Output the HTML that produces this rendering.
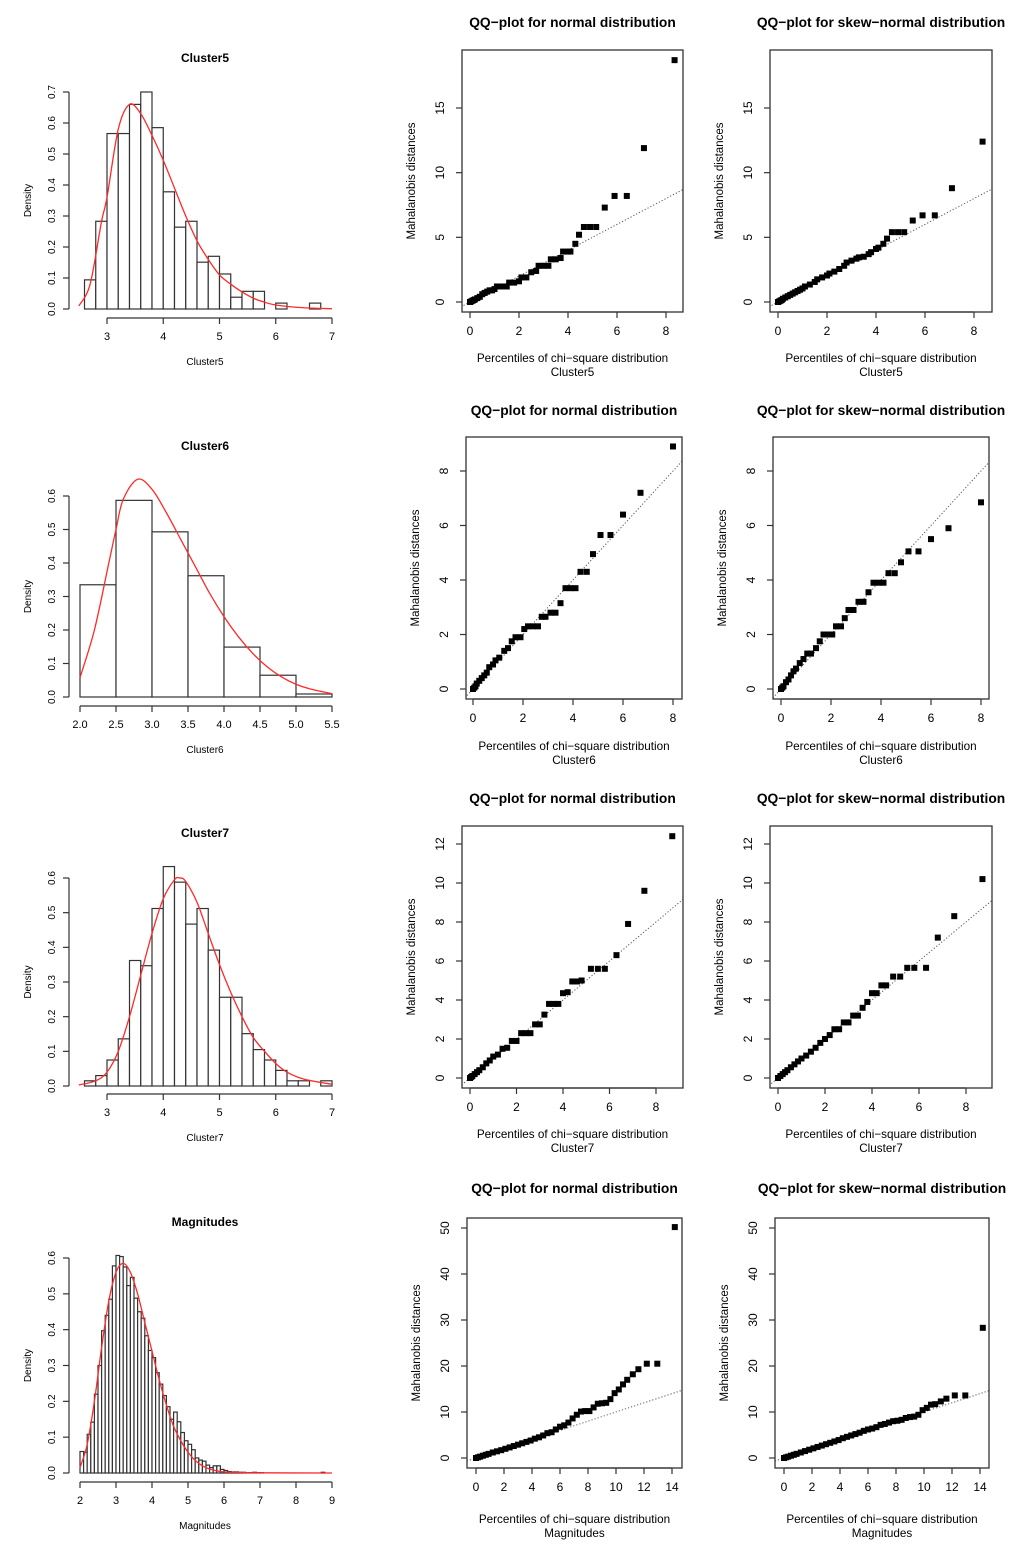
<!DOCTYPE html>
<html><head><meta charset="utf-8"><style>
body{margin:0;background:#fff}
svg text{font-family:"Liberation Sans",Arial,sans-serif;fill:#000}
</style></head><body>
<svg id="fig" width="1024" height="1560" viewBox="0 0 1024 1560" xmlns="http://www.w3.org/2000/svg"></svg>
<script>
// ---------- Histogram data ----------
const c5Start = 2.6, c5Width = 0.2;
const c5Density = [0.094,0.283,0.566,0.566,0.66,0.70,0.585,0.378,0.264,0.283,0.151,0.17,0.113,0.038,0.057,0.057,0,0.019,0,0,0.019];
const c5CurveX = [2.5,2.7,2.9,3.0,3.2,3.4,3.6,3.8,4.0,4.2,4.4,4.6,4.8,5.0,5.2,5.4,5.6,5.8,6.0,6.5,7.0];
const c5CurveY = [0.01,0.08,0.28,0.36,0.58,0.66,0.63,0.56,0.48,0.39,0.30,0.22,0.16,0.11,0.08,0.055,0.035,0.022,0.013,0.004,0.001];
const c5XTicks = ["3","4","5","6","7"];
const c5YTicks = ["0.0","0.1","0.2","0.3","0.4","0.5","0.6","0.7"];

const c6Start = 2.0, c6Width = 0.5;
const c6Density = [0.335,0.587,0.493,0.362,0.149,0.065,0.009];
const c6CurveX = [2.0,2.2,2.4,2.5,2.6,2.8,3.0,3.2,3.4,3.6,3.8,4.0,4.2,4.4,4.6,4.8,5.0,5.2,5.5];
const c6CurveY = [0.058,0.2,0.4,0.5,0.59,0.65,0.62,0.55,0.47,0.39,0.31,0.24,0.18,0.13,0.09,0.06,0.038,0.024,0.01];
const c6XTicks = ["2.0","2.5","3.0","3.5","4.0","4.5","5.0","5.5"];
const c6YTicks = ["0.0","0.1","0.2","0.3","0.4","0.5","0.6"];

const c7Start = 2.6, c7Width = 0.2;
const c7Density = [0.015,0.03,0.075,0.136,0.362,0.347,0.512,0.633,0.588,0.467,0.512,0.392,0.256,0.256,0.151,0.105,0.075,0.045,0.015,0.015,0,0.015];
const c7CurveX = [2.5,2.8,3.0,3.2,3.4,3.6,3.8,4.0,4.2,4.3,4.4,4.6,4.8,5.0,5.2,5.4,5.6,5.8,6.0,6.2,6.5,7.0];
const c7CurveY = [0.003,0.015,0.04,0.1,0.2,0.32,0.44,0.54,0.595,0.6,0.59,0.53,0.44,0.35,0.27,0.2,0.14,0.1,0.065,0.04,0.02,0.005];
const c7XTicks = ["3","4","5","6","7"];
const c7YTicks = ["0.0","0.1","0.2","0.3","0.4","0.5","0.6"];

const magStart = 2.0, magWidth = 0.1;
const magDensity = [0.06,0.058,0.108,0.142,0.22,0.30,0.397,0.44,0.485,0.578,0.607,0.604,0.575,0.523,0.546,0.488,0.45,0.432,0.383,0.342,0.322,0.28,0.248,0.216,0.185,0.15,0.17,0.143,0.113,0.09,0.08,0.065,0.042,0.036,0.033,0.022,0.015,0.02,0.02,0.01,0.007,0.004,0.003,0.003,0.002,0.002,0.001,0.001,0.002,0.001,0.001,0,0,0,0,0,0,0,0,0,0,0,0,0,0,0,0,0.002,0,0];
const magCurveX = [2.0,2.2,2.4,2.6,2.8,3.0,3.2,3.4,3.6,3.8,4.0,4.2,4.4,4.6,4.8,5.0,5.2,5.4,5.6,5.8,6.0,6.5,7.0,9.0];
const magCurveY = [0.015,0.08,0.2,0.35,0.48,0.56,0.585,0.56,0.5,0.42,0.34,0.26,0.19,0.13,0.09,0.058,0.035,0.02,0.011,0.006,0.003,0.001,0.0005,0];
const magXTicks = ["2","3","4","5","6","7","8","9"];
const magYTicks = ["0.0","0.1","0.2","0.3","0.4","0.5","0.6"];

// ---------- QQ data ----------
const q1nX = [0,0.05,0.1,0.15,0.2,0.3,0.4,0.5,0.6,0.7,0.8,0.9,1.0,1.1,1.3,1.5,1.6,1.8,2.0,2.1,2.3,2.5,2.7,2.8,3.0,3.2,3.3,3.5,3.7,3.8,4.0,4.1,4.3,4.45,4.65,4.9,5.15,5.5,5.9,6.4,7.1,8.35];
const q1nY = [0,0.05,0.1,0.15,0.2,0.3,0.4,0.6,0.7,0.8,0.9,0.9,1.0,1.2,1.2,1.2,1.5,1.5,1.6,1.9,1.9,2.3,2.4,2.8,2.8,2.8,3.3,3.3,3.4,3.9,3.9,3.9,4.5,5.2,5.8,5.8,5.8,7.3,8.2,8.2,11.9,18.7];
const q1sX = [0,0.05,0.1,0.15,0.2,0.3,0.4,0.5,0.6,0.7,0.8,0.9,1.0,1.1,1.3,1.5,1.6,1.8,2.0,2.1,2.3,2.5,2.7,2.8,3.0,3.2,3.3,3.5,3.7,3.8,4.0,4.1,4.3,4.45,4.65,4.9,5.15,5.5,5.9,6.4,7.1,8.35];
const q1sY = [0,0.05,0.1,0.15,0.25,0.35,0.45,0.55,0.65,0.75,0.85,0.95,1.05,1.2,1.35,1.55,1.75,1.9,2.05,2.2,2.35,2.55,2.8,3.05,3.2,3.35,3.45,3.5,3.7,3.85,4.1,4.2,4.5,4.9,5.4,5.4,5.4,6.3,6.7,6.7,8.8,12.4];
const q2nX = [0,0.05,0.1,0.15,0.25,0.35,0.45,0.55,0.65,0.8,0.9,1.05,1.25,1.4,1.55,1.7,1.9,2.05,2.2,2.4,2.6,2.75,2.9,3.1,3.3,3.5,3.7,3.9,4.1,4.3,4.55,4.8,5.1,5.5,6.0,6.7,8.0];
const q2nY = [0,0.05,0.1,0.2,0.3,0.4,0.5,0.6,0.8,0.9,1.05,1.15,1.4,1.5,1.75,1.9,1.9,2.2,2.3,2.3,2.3,2.65,2.65,2.8,2.8,3.15,3.7,3.7,3.7,4.3,4.3,4.95,5.65,5.65,6.4,7.2,8.9];
const q2sX = [0,0.05,0.1,0.2,0.3,0.4,0.5,0.6,0.75,0.9,1.05,1.2,1.4,1.55,1.7,1.85,2.05,2.2,2.4,2.55,2.7,2.9,3.1,3.3,3.5,3.7,3.9,4.1,4.3,4.55,4.8,5.1,5.5,6.0,6.7,8.0];
const q2sY = [0,0.05,0.1,0.25,0.35,0.5,0.65,0.75,0.95,1.1,1.3,1.3,1.5,1.75,2.0,2.0,2.0,2.3,2.3,2.6,2.9,2.9,3.2,3.2,3.55,3.9,3.9,3.9,4.25,4.25,4.65,5.05,5.05,5.5,5.9,6.85];
const q3nX = [0,0.05,0.1,0.2,0.3,0.4,0.55,0.7,0.85,1.0,1.2,1.4,1.6,1.8,2.0,2.2,2.4,2.6,2.8,3.0,3.2,3.4,3.6,3.8,4.0,4.2,4.4,4.6,4.8,5.2,5.5,5.8,6.3,6.8,7.5,8.7];
const q3nY = [0,0.05,0.1,0.2,0.3,0.4,0.55,0.75,0.9,1.1,1.2,1.5,1.55,1.9,1.9,2.3,2.3,2.3,2.75,2.75,3.25,3.8,3.8,3.8,4.35,4.4,4.95,4.95,5.0,5.6,5.6,5.6,6.3,7.9,9.6,12.4];
const q3sX = [0,0.1,0.2,0.3,0.4,0.55,0.7,0.85,1.0,1.2,1.4,1.6,1.8,2.0,2.2,2.4,2.6,2.8,3.0,3.2,3.4,3.6,3.8,4.0,4.2,4.4,4.6,4.9,5.2,5.5,5.8,6.3,6.8,7.5,8.7];
const q3sY = [0,0.1,0.2,0.3,0.4,0.55,0.7,0.85,1.0,1.15,1.35,1.55,1.8,2.0,2.2,2.5,2.5,2.85,2.85,3.2,3.2,3.6,3.9,4.35,4.35,4.75,4.75,5.2,5.2,5.65,5.65,5.65,7.2,8.3,10.2];
const q4nX = [0,0.15,0.3,0.5,0.7,0.9,1.2,1.5,1.8,2.1,2.4,2.7,3.0,3.3,3.6,3.9,4.2,4.5,4.8,5.1,5.4,5.7,6.0,6.3,6.6,6.9,7.2,7.5,7.8,8.1,8.4,8.7,9.0,9.3,9.6,9.9,10.2,10.5,10.8,11.2,11.6,12.2,12.95,14.2];
const q4nY = [0,0.15,0.3,0.5,0.7,0.9,1.2,1.45,1.7,2.0,2.3,2.6,2.9,3.2,3.5,3.8,4.2,4.5,4.9,5.4,5.6,6.2,6.8,7.1,7.7,8.6,9.4,10.1,10.2,10.2,11,11.8,11.9,12.0,12.8,14.1,14.9,16,17,18.2,19.3,20.5,20.5,50.2];
const q4sX = [0,0.15,0.3,0.5,0.7,0.9,1.2,1.5,1.8,2.1,2.4,2.7,3.0,3.3,3.6,3.9,4.2,4.5,4.8,5.1,5.4,5.7,6.0,6.3,6.6,6.9,7.2,7.5,7.8,8.1,8.4,8.7,9.0,9.3,9.6,9.9,10.2,10.5,10.8,11.2,11.6,12.2,12.95,14.2];
const q4sY = [0,0.15,0.3,0.5,0.7,0.9,1.2,1.5,1.8,2.1,2.4,2.7,3.0,3.3,3.6,3.9,4.3,4.6,4.9,5.2,5.5,5.9,6.2,6.4,6.7,7.2,7.4,7.7,8.0,8.1,8.3,8.7,8.9,9.0,9.4,10.4,10.9,11.6,11.7,12.3,12.9,13.6,13.6,28.3];
const qTicks8 = ["0","2","4","6","8"];
const qTicks14 = ["0","2","4","6","8","10","12","14"];
const qY1 = ["0","5","10","15"];
const qY2 = ["0","2","4","6","8"];
const qY3 = ["0","2","4","6","8","10","12"];
const qY4 = ["0","10","20","30","40","50"];

// ---------- drawing ----------
const NS = "http://www.w3.org/2000/svg";
const svg = document.getElementById("fig");
function mk(tag, attrs, parent){ const e=document.createElementNS(NS,tag); for(const k in attrs) e.setAttribute(k,attrs[k]); (parent||svg).appendChild(e); return e; }
function lin(v1,p1,v2,p2){ return v=>p1+(v-v1)*(p2-p1)/(v2-v1); }
function txt(g,x,y,s,size,opts){ const t=mk("text",Object.assign({x:x,y:y,"font-size":size,"text-anchor":"middle"},opts||{}),g); t.textContent=s; return t; }
function smoothPath(P){
  let d="M"+P[0][0]+","+P[0][1];
  for(let i=0;i<P.length-1;i++){
    const p0=P[Math.max(0,i-1)],p1=P[i],p2=P[i+1],p3=P[Math.min(P.length-1,i+2)];
    const c1x=p1[0]+(p2[0]-p0[0])/6,c1y=p1[1]+(p2[1]-p0[1])/6;
    const c2x=p2[0]-(p3[0]-p1[0])/6,c2y=p2[1]-(p3[1]-p1[1])/6;
    d+=` C${c1x},${c1y} ${c2x},${c2y} ${p2[0]},${p2[1]}`;
  }
  return d;
}

function hist(name,cfg,start,width,dens,cx,cy,xt,yt){
  const g=mk("g",{});
  
  
  const sx=lin(cfg.xv[0],cfg.xp[0],cfg.xv[1],cfg.xp[1]);
  const sy=lin(0,cfg.y0,cfg.yv,cfg.yp);
  const t=txt(g,205,cfg.title+4,name,12,{"font-weight":"bold"});
  
  
  dens.forEach((d,i)=>{
    const x1=sx(start+i*width), x2=sx(start+(i+1)*width), y=sy(d);
    const r=mk("rect",{x:x1,y:y,width:x2-x1,height:cfg.y0-y,fill:"#fff",stroke:"#333","stroke-width":1.2},g);
    
    
  });
  const P=cx.map((x,i)=>[sx(x),sy(cy[i])]);
  const pl=mk("path",{d:smoothPath(P),fill:"none",stroke:"#ff2a2a","stroke-width":1.3},g);
  
  
  const xs=xt.map(Number);
  const xa=mk("g",{},g);
  
  
  mk("line",{x1:sx(xs[0]),x2:sx(xs[xs.length-1]),y1:cfg.ax,y2:cfg.ax,stroke:"#333","stroke-width":1.2},xa);
  xs.forEach((v,i)=>{ mk("line",{x1:sx(v),x2:sx(v),y1:cfg.ax,y2:cfg.ax+6,stroke:"#333","stroke-width":1.2},xa); txt(xa,sx(v),cfg.ax+22,xt[i],11); });
  const ys=yt.map(Number);
  const ya=mk("g",{},g);
  
  
  mk("line",{x1:69,x2:69,y1:sy(ys[0]),y2:sy(ys[ys.length-1]),stroke:"#333","stroke-width":1.2},ya);
  ys.forEach((v,i)=>{ const y=sy(v); mk("line",{x1:63,x2:69,y1:y,y2:y,stroke:"#333","stroke-width":1.2},ya); txt(ya,0,0,yt[i],10,{transform:`translate(55,${y}) rotate(-90)`}); });
  const xl=txt(g,205,cfg.xlab+4,name,10);
  
  
  const yl=txt(g,0,0,"Density",10,{transform:`translate(31,${(sy(ys[0])+sy(ys[ys.length-1]))/2}) rotate(-90)`});
  
  
}

function qq(name,title,sub,cfg,px,py,xt,yt){
  const g=mk("g",{});
  
  
  const [bl,bt,br,bb]=cfg.box;
  const sx=lin(0,cfg.x0,cfg.xv,cfg.xp);
  const sy=lin(0,cfg.y0,cfg.yv,cfg.yp);
  const cxm=(bl+br)/2;
  const t=txt(g,cxm,cfg.title+5,title,13.8,{"font-weight":"bold"});
  
  
  const cid="clip-"+name;
  const cp=mk("clipPath",{id:cid},g); mk("rect",{x:bl,y:bt,width:br-bl,height:bb-bt},cp);
  const vmin=-5, vmax=100;
  const rl=mk("line",{x1:sx(vmin),y1:sy(vmin),x2:sx(vmax),y2:sy(vmax),stroke:"#555","stroke-width":1,"stroke-dasharray":"1.2,2","clip-path":`url(#${cid})`},g);
  
  
  px.forEach((x,i)=>{
    const r=mk("rect",{x:sx(x)-3,y:sy(py[i])-3,width:6,height:6,fill:"#000"},g);
    
    
  });
  const b=mk("rect",{x:bl,y:bt,width:br-bl,height:bb-bt,fill:"none",stroke:"#333","stroke-width":1.3},g);
  
  
  const xa=mk("g",{},g);
  
  
  const xs=xt.map(Number);
  mk("line",{x1:sx(xs[0]),x2:sx(xs[xs.length-1]),y1:bb,y2:bb,stroke:"#333","stroke-width":1.2},xa);
  xs.forEach((v,i)=>{ mk("line",{x1:sx(v),x2:sx(v),y1:bb,y2:bb+6,stroke:"#333","stroke-width":1.2},xa); txt(xa,sx(v),bb+23,xt[i],12); });
  const ya=mk("g",{},g);
  
  
  yt.map(Number).forEach((v,i)=>{ const y=sy(v); mk("line",{x1:bl-6,x2:bl,y1:y,y2:y,stroke:"#333","stroke-width":1.2},ya); txt(ya,0,0,yt[i],12,{transform:`translate(${bl-18},${y}) rotate(-90)`}); });
  const xl=txt(g,cxm,cfg.xlab+4,"Percentiles of chi\u2212square distribution",11.7);
  
  
  const sl=txt(g,cxm,cfg.xlab+18,sub,11.7);
  
  
  const yl=txt(g,0,0,"Mahalanobis distances",11.5,{transform:`translate(${bl-47},${(bt+bb)/2}) rotate(-90)`});
  
  
}

hist("Cluster5",{xv:[3,7],xp:[107,332],y0:309,yv:0.7,yp:92,ax:318,title:58,xlab:361},c5Start,c5Width,c5Density,c5CurveX,c5CurveY,c5XTicks,c5YTicks);
hist("Cluster6",{xv:[2,5.5],xp:[80,332],y0:697,yv:0.6,yp:496,ax:706,title:446,xlab:749},c6Start,c6Width,c6Density,c6CurveX,c6CurveY,c6XTicks,c6YTicks);
hist("Cluster7",{xv:[3,7],xp:[107,332],y0:1086,yv:0.6,yp:878,ax:1094,title:833,xlab:1137},c7Start,c7Width,c7Density,c7CurveX,c7CurveY,c7XTicks,c7YTicks);
hist("Magnitudes",{xv:[2,9],xp:[80,332],y0:1473,yv:0.6,yp:1258,ax:1482,title:1222,xlab:1525},magStart,magWidth,magDensity,magCurveX,magCurveY,magXTicks,magYTicks);

const TN="QQ\u2212plot for normal distribution", TS="QQ\u2212plot for skew\u2212normal distribution";
qq("qq-normal-cluster5",TN,"Cluster5",{box:[462,50,683,312],x0:470,xv:8,xp:666,y0:302,yv:15,yp:108,title:22,xlab:358},q1nX,q1nY,qTicks8,qY1);
qq("qq-skew-cluster5",TS,"Cluster5",{box:[770,50,992,312],x0:778,xv:8,xp:974,y0:302,yv:15,yp:108,title:22,xlab:358},q1sX,q1sY,qTicks8,qY1);
qq("qq-normal-cluster6",TN,"Cluster6",{box:[466,437,682,699],x0:473,xv:8,xp:673,y0:689,yv:8,yp:471,title:410,xlab:746},q2nX,q2nY,qTicks8,qY2);
qq("qq-skew-cluster6",TS,"Cluster6",{box:[773,437,989,699],x0:781,xv:8,xp:981,y0:689,yv:8,yp:471,title:410,xlab:746},q2sX,q2sY,qTicks8,qY2);
qq("qq-normal-cluster7",TN,"Cluster7",{box:[462,826,683,1088],x0:470,xv:8,xp:656,y0:1078,yv:12,yp:844,title:798,xlab:1134},q3nX,q3nY,qTicks8,qY3);
qq("qq-skew-cluster7",TS,"Cluster7",{box:[770,826,992,1088],x0:778,xv:8,xp:966,y0:1078,yv:12,yp:844,title:798,xlab:1134},q3sX,q3sY,qTicks8,qY3);
qq("qq-normal-magnitudes",TN,"Magnitudes",{box:[467,1218,682,1468],x0:476,xv:14,xp:672,y0:1458,yv:50,yp:1228,title:1188,xlab:1519},q4nX,q4nY,qTicks14,qY4);
qq("qq-skew-magnitudes",TS,"Magnitudes",{box:[775,1218,989,1468],x0:784,xv:14,xp:980,y0:1458,yv:50,yp:1228,title:1188,xlab:1519},q4sX,q4sY,qTicks14,qY4);
</script>
</body></html>
